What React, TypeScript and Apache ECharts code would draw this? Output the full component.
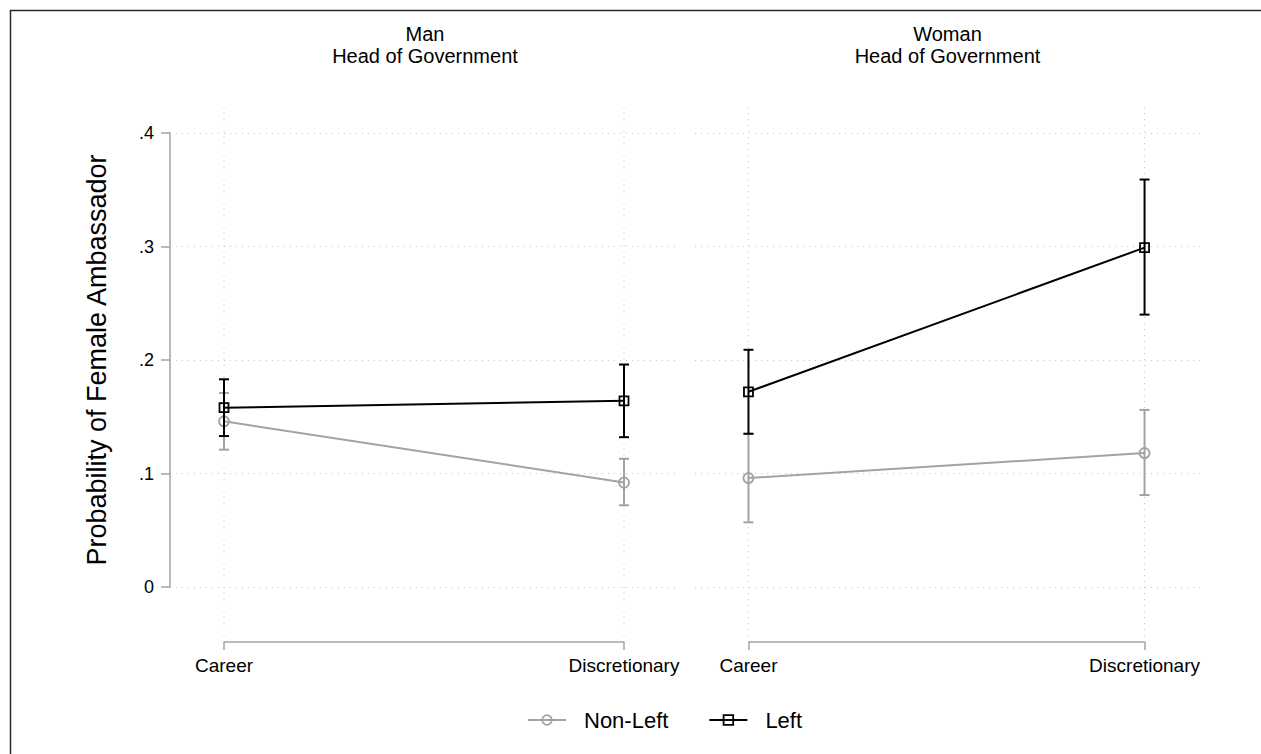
import React, { useEffect, useRef } from "react";
import * as echarts from "echarts";

// ---------- data ----------
const categories = ["Career", "Discretionary"];
const panelTitles = ["Man\nHead of Government", "Woman\nHead of Government"];
const seriesNames = ["Non-Left", "Left"];
const yTicks = [0, 0.1, 0.2, 0.3, 0.4];

// Man head of government
const manNonLeft = [0.146, 0.092];
const manNonLeftLo = [0.121, 0.072];
const manNonLeftHi = [0.171, 0.113];
const manLeft = [0.158, 0.164];
const manLeftLo = [0.133, 0.132];
const manLeftHi = [0.183, 0.196];

// Woman head of government
const womanNonLeft = [0.096, 0.118];
const womanNonLeftLo = [0.057, 0.081];
const womanNonLeftHi = [0.135, 0.156];
const womanLeft = [0.172, 0.299];
const womanLeftLo = [0.135, 0.24];
const womanLeftHi = [0.209, 0.359];

// ---------- styles ----------
const FONT = "'Liberation Sans', Arial, Helvetica, sans-serif";
const GRAY = "#a3a3a3";
const BLACK = "#000000";
const GRID_COLOR = "#c4c4c4";
const XMIN = -0.135;
const XMAX = 1.14;

const panels = [
  { left: 170, width: 510 },
  { left: 695, width: 505 },
];

export default function App() {
  const ref = useRef<HTMLDivElement>(null);

  useEffect(() => {
    document.body.style.margin = "0";
    document.body.style.overflow = "hidden";
    if (!ref.current) return;
    const chart = echarts.init(ref.current, undefined, { renderer: "svg" });

    const panelData = [
      {
        nonLeft: manNonLeft, nonLeftLo: manNonLeftLo, nonLeftHi: manNonLeftHi,
        left: manLeft, leftLo: manLeftLo, leftHi: manLeftHi,
      },
      {
        nonLeft: womanNonLeft, nonLeftLo: womanNonLeftLo, nonLeftHi: womanNonLeftHi,
        left: womanLeft, leftLo: womanLeftLo, leftHi: womanLeftHi,
      },
    ];

    const grid: any[] = [];
    const xAxis: any[] = [];
    const yAxis: any[] = [];
    const series: any[] = [];
    const graphic: any[] = [];

    const errorBar = (color: string) => (params: any, api: any) => {
      const x = api.value(0);
      const lo = api.coord([x, api.value(1)]);
      const hi = api.coord([x, api.value(2)]);
      const w = 5;
      const style = { stroke: color, lineWidth: 2, fill: "none" };
      return {
        type: "group",
        children: [
          { type: "line", shape: { x1: lo[0], y1: lo[1], x2: hi[0], y2: hi[1] }, style },
          { type: "line", shape: { x1: lo[0] - w, y1: lo[1], x2: lo[0] + w, y2: lo[1] }, style },
          { type: "line", shape: { x1: hi[0] - w, y1: hi[1], x2: hi[0] + w, y2: hi[1] }, style },
        ],
      };
    };

    panels.forEach((p, i) => {
      const dataIdx = i * 2;
      const frameIdx = i * 2 + 1;
      grid.push({ left: p.left, top: 133, width: p.width, height: 454, containLabel: false });
      grid.push({ left: p.left, top: 107, width: p.width, height: 535, containLabel: false });

      xAxis.push({
        type: "value", gridIndex: dataIdx, min: XMIN, max: XMAX, show: false,
        axisLine: { onZero: false },
      });
      xAxis.push({
        type: "value", gridIndex: frameIdx, min: XMIN, max: XMAX,
        axisLine: { show: false, onZero: false },
        axisTick: { show: true, customValues: [0, 1], length: 8, lineStyle: { color: GRAY, width: 1.5 } },
        axisLabel: {
          show: true, customValues: [0, 1], margin: 14,
          formatter: (v: number) => categories[Math.round(v)] ?? "",
          color: "#000", fontFamily: FONT, fontSize: 19,
        },
        splitLine: { show: false },
      });

      yAxis.push({
        type: "value", gridIndex: dataIdx, min: 0, max: 0.4, interval: 0.1,
        name: i === 0 ? "Probability of Female Ambassador" : "",
        nameLocation: "middle", nameGap: 60, nameRotate: 90,
        nameTextStyle: { fontFamily: FONT, fontSize: 27, color: "#000" },
        axisLine: { show: i === 0, onZero: false, lineStyle: { color: GRAY, width: 1.5 } },
        axisTick: { show: i === 0, length: 9, lineStyle: { color: GRAY, width: 1.5 } },
        axisLabel: {
          show: i === 0, margin: 16, color: "#000", fontFamily: FONT, fontSize: 18,
          formatter: (v: number) => {
            const t = yTicks.find((k) => Math.abs(k - v) < 1e-9);
            if (t === undefined) return "";
            return t === 0 ? "0" : String(t).replace(/^0/, "");
          },
        },
        splitLine: { show: true, lineStyle: { color: GRID_COLOR, width: 1, type: [1, 5] } },
      });
      yAxis.push({ type: "value", gridIndex: frameIdx, min: 0, max: 1, show: false, axisLine: { onZero: false } });

      // vertical dotted gridlines at the two categories
      categories.forEach((_, k) => {
        series.push({
          type: "line", name: "grid" + i + "_" + k, xAxisIndex: frameIdx, yAxisIndex: frameIdx,
          data: [[k, 0], [k, 1]], showSymbol: false, silent: true,
          lineStyle: { color: GRID_COLOR, width: 1, type: [1, 5] }, z: 0,
        });
      });
      // x axis line between Career and Discretionary
      series.push({
        type: "line", name: "axis" + i, xAxisIndex: frameIdx, yAxisIndex: frameIdx,
        data: [[0, 0], [1, 0]], showSymbol: false, clip: false, silent: true,
        lineStyle: { color: GRAY, width: 1.5 }, z: 1,
      });

      const d = panelData[i];
      series.push({
        type: "custom", name: "Non-Left CI " + i, xAxisIndex: dataIdx, yAxisIndex: dataIdx,
        renderItem: errorBar(GRAY), z: 2, silent: true,
        encode: { x: 0, y: [1, 2] },
        data: d.nonLeft.map((_, k) => [k, d.nonLeftLo[k], d.nonLeftHi[k]]),
      });
      series.push({
        type: "line", name: seriesNames[0], xAxisIndex: dataIdx, yAxisIndex: dataIdx,
        data: d.nonLeft.map((v, k) => [k, v]), symbol: "circle", symbolSize: 10,
        itemStyle: { color: "rgba(255,255,255,0)", borderColor: GRAY, borderWidth: 1.8 },
        lineStyle: { color: GRAY, width: 2 }, z: 3,
      });
      series.push({
        type: "custom", name: "Left CI " + i, xAxisIndex: dataIdx, yAxisIndex: dataIdx,
        renderItem: errorBar(BLACK), z: 4, silent: true,
        encode: { x: 0, y: [1, 2] },
        data: d.left.map((_, k) => [k, d.leftLo[k], d.leftHi[k]]),
      });
      series.push({
        type: "line", name: seriesNames[1], xAxisIndex: dataIdx, yAxisIndex: dataIdx,
        data: d.left.map((v, k) => [k, v]), symbol: "rect", symbolSize: 9,
        itemStyle: { color: "rgba(255,255,255,0)", borderColor: BLACK, borderWidth: 1.8 },
        lineStyle: { color: BLACK, width: 2 }, z: 5,
      });

      graphic.push({
        type: "text", x: p.left + p.width / 2, y: 23,
        style: {
          text: panelTitles[i], textAlign: "center", textVerticalAlign: "top",
          font: `20px ${FONT}`, lineHeight: 22, fill: "#000",
        },
      });
    });

    // outer frame (top and left edges; the rest lies beyond the picture)
    graphic.push({
      type: "polyline", shape: { points: [[10.5, 760], [10.5, 10.5], [1270, 10.5]] },
      style: { fill: "none", stroke: "#2a2a2a", lineWidth: 1.5 }, silent: true,
    });

    chart.setOption({
      animation: false,
      backgroundColor: "#fff",
      grid, xAxis, yAxis, series, graphic,
      legend: {
        data: [
          { name: seriesNames[0], itemStyle: { color: "rgba(255,255,255,0)", borderColor: GRAY, borderWidth: 1.8 } },
          { name: seriesNames[1], itemStyle: { color: "rgba(255,255,255,0)", borderColor: BLACK, borderWidth: 1.8 } },
        ],
        left: 527, top: 709, padding: 0, itemWidth: 38, itemHeight: 12, itemGap: 40,
        textStyle: { fontFamily: FONT, fontSize: 22, color: "#000", padding: [0, 0, 0, 13] },
      },
    });

    return () => chart.dispose();
  }, []);

  return <div ref={ref} style={{ width: 1261, height: 754 }} />;
}
